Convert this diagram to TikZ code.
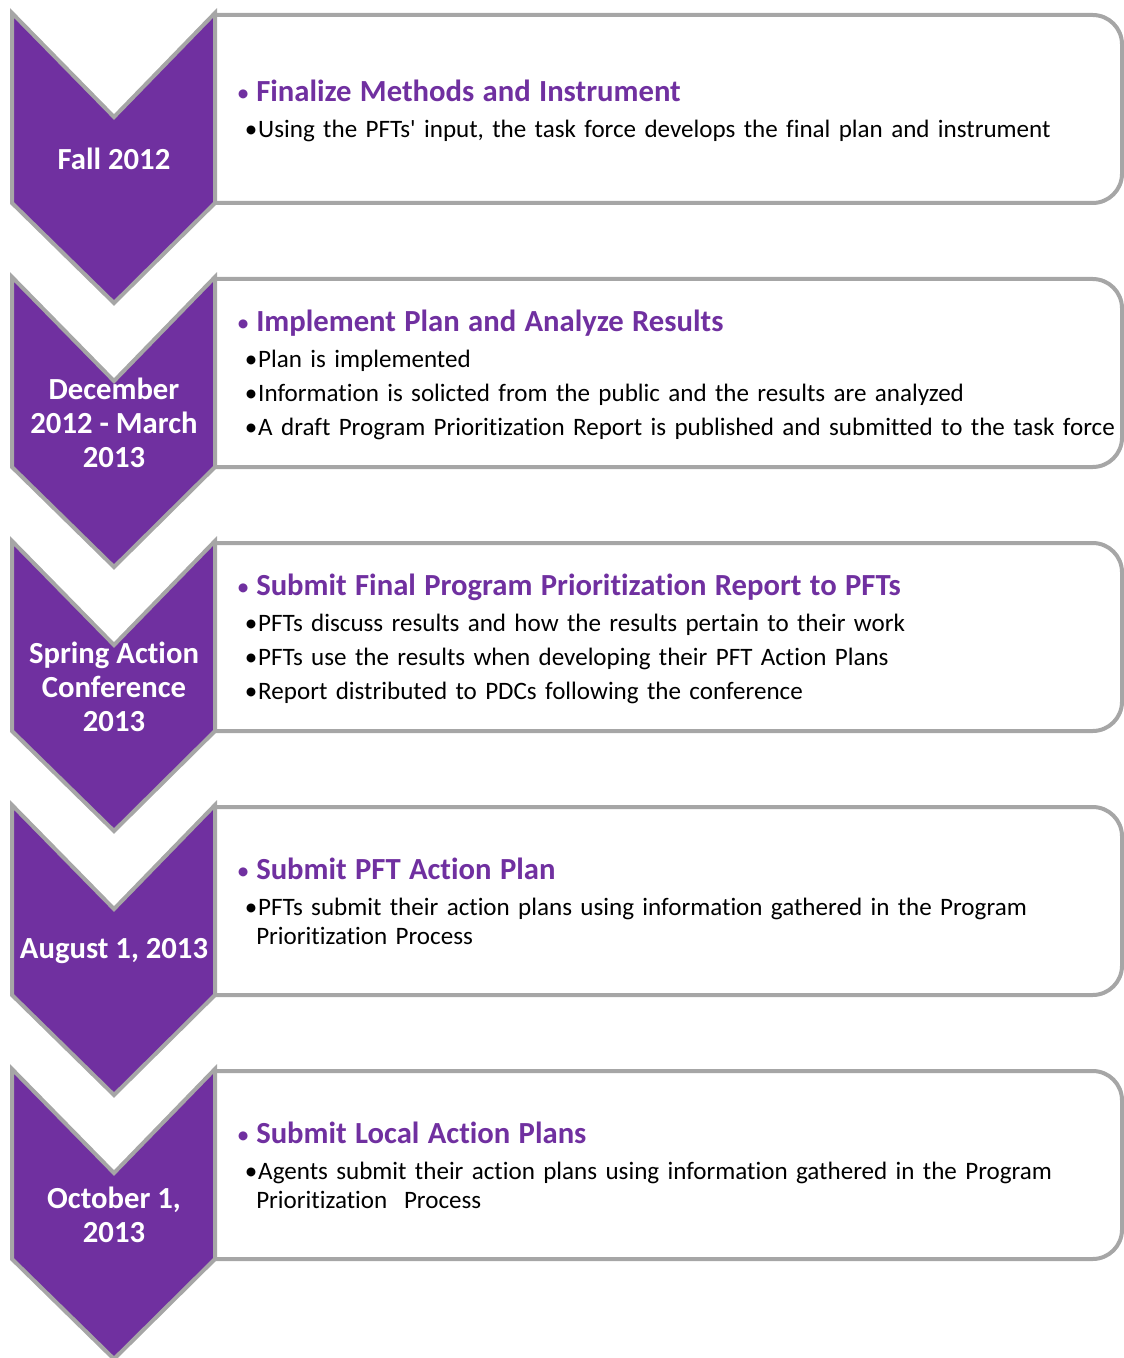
\documentclass[tikz,border=0pt]{standalone}
\usepackage{fontspec}
\setmainfont{Carlito}[Ligatures=CommonOff]
\definecolor{chevpurple}{HTML}{7030A0}
\definecolor{headpurple}{HTML}{7030A0}
\definecolor{edgegray}{HTML}{A6A6A6}
\tikzset{
	chevron/.style={draw=edgegray, line width=3pt, fill=chevpurple, line join=miter},
	stepbox/.style={draw=edgegray, line width=3pt, fill=white},
	datelabel/.style={text=white, font=\bfseries\fontsize{23}{25.5}\selectfont, align=center, inner sep=0pt},
	notes/.style={anchor=west, inner sep=0pt, text width=900*0.75pt, align=left,
		font=\fontsize{18.8}{21.5}\selectfont}
}
\newcommand{\headline}[1]{{\color{headpurple}\makebox[15pt][l]{\hspace{0.5pt}\fontsize{19}{19}\selectfont\textbullet}%
	\bfseries\fontsize{23}{24}\selectfont#1}\par\vspace{6pt}}
\newcommand{\point}[1]{\hangindent=15pt\hangafter=1\makebox[16.5pt][l]{\hspace{6.5pt}\textbullet}#1\par\vspace{4pt}}
\begin{document}
\begin{tikzpicture}[x=0.75pt, y=-0.75pt]
	\useasboundingbox (0,0) rectangle (1123,1358);
	\foreach \i/\t/\when in {1/13/{Fall 2012}, 2/277/{December\\2012 - March\\2013},
		3/541/{Spring Action\\Conference\\2013}, 4/805/{August 1, 2013}, 5/1069/{October 1,\\2013}}
	{
	\draw [stepbox] (215,\t+2) [rounded corners=22] -- (1122,\t+2) -- (1122,\t+190) [sharp corners] -- (215,\t+190);
	\draw [chevron] (12,\t) -- (114,\t+104) -- (215,\t) -- (215,\t+190) -- (114,\t+290) -- (12,\t+190) -- cycle;
	\node [datelabel] (date\i) at (114,\t+146) {\when};
	}
	% notes beside each step
	\node [notes] (note1) at (236,111) {\headline{Finalize Methods and Instrument}
		\point{Using the PFTs\textquotesingle{} input, the task force develops the final plan and instrument}};
	\node [notes] (note2) at (236,375) {\headline{Implement Plan and Analyze Results}
		\point{Plan is implemented}
		\point{Information is solicted from the public and the results are analyzed}
		\point{A draft Program Prioritization Report is published and submitted to the task force}};
	\node [notes] (note3) at (236,639) {\headline{Submit Final Program Prioritization Report to PFTs}
		\point{PFTs discuss results and how the results pertain to their work}
		\point{PFTs use the results when developing their PFT Action Plans}
		\point{Report distributed to PDCs following the conference}};
	\node [notes] (note4) at (236,901) {\headline{Submit PFT Action Plan}
		\point{PFTs submit their action plans using information gathered in the Program\newline Prioritization Process}};
	\node [notes] (note5) at (236,1165) {\headline{Submit Local Action Plans}
		\point{Agents submit their action plans using information gathered in the Program\newline Prioritization~ Process}};
\end{tikzpicture}
\end{document}
